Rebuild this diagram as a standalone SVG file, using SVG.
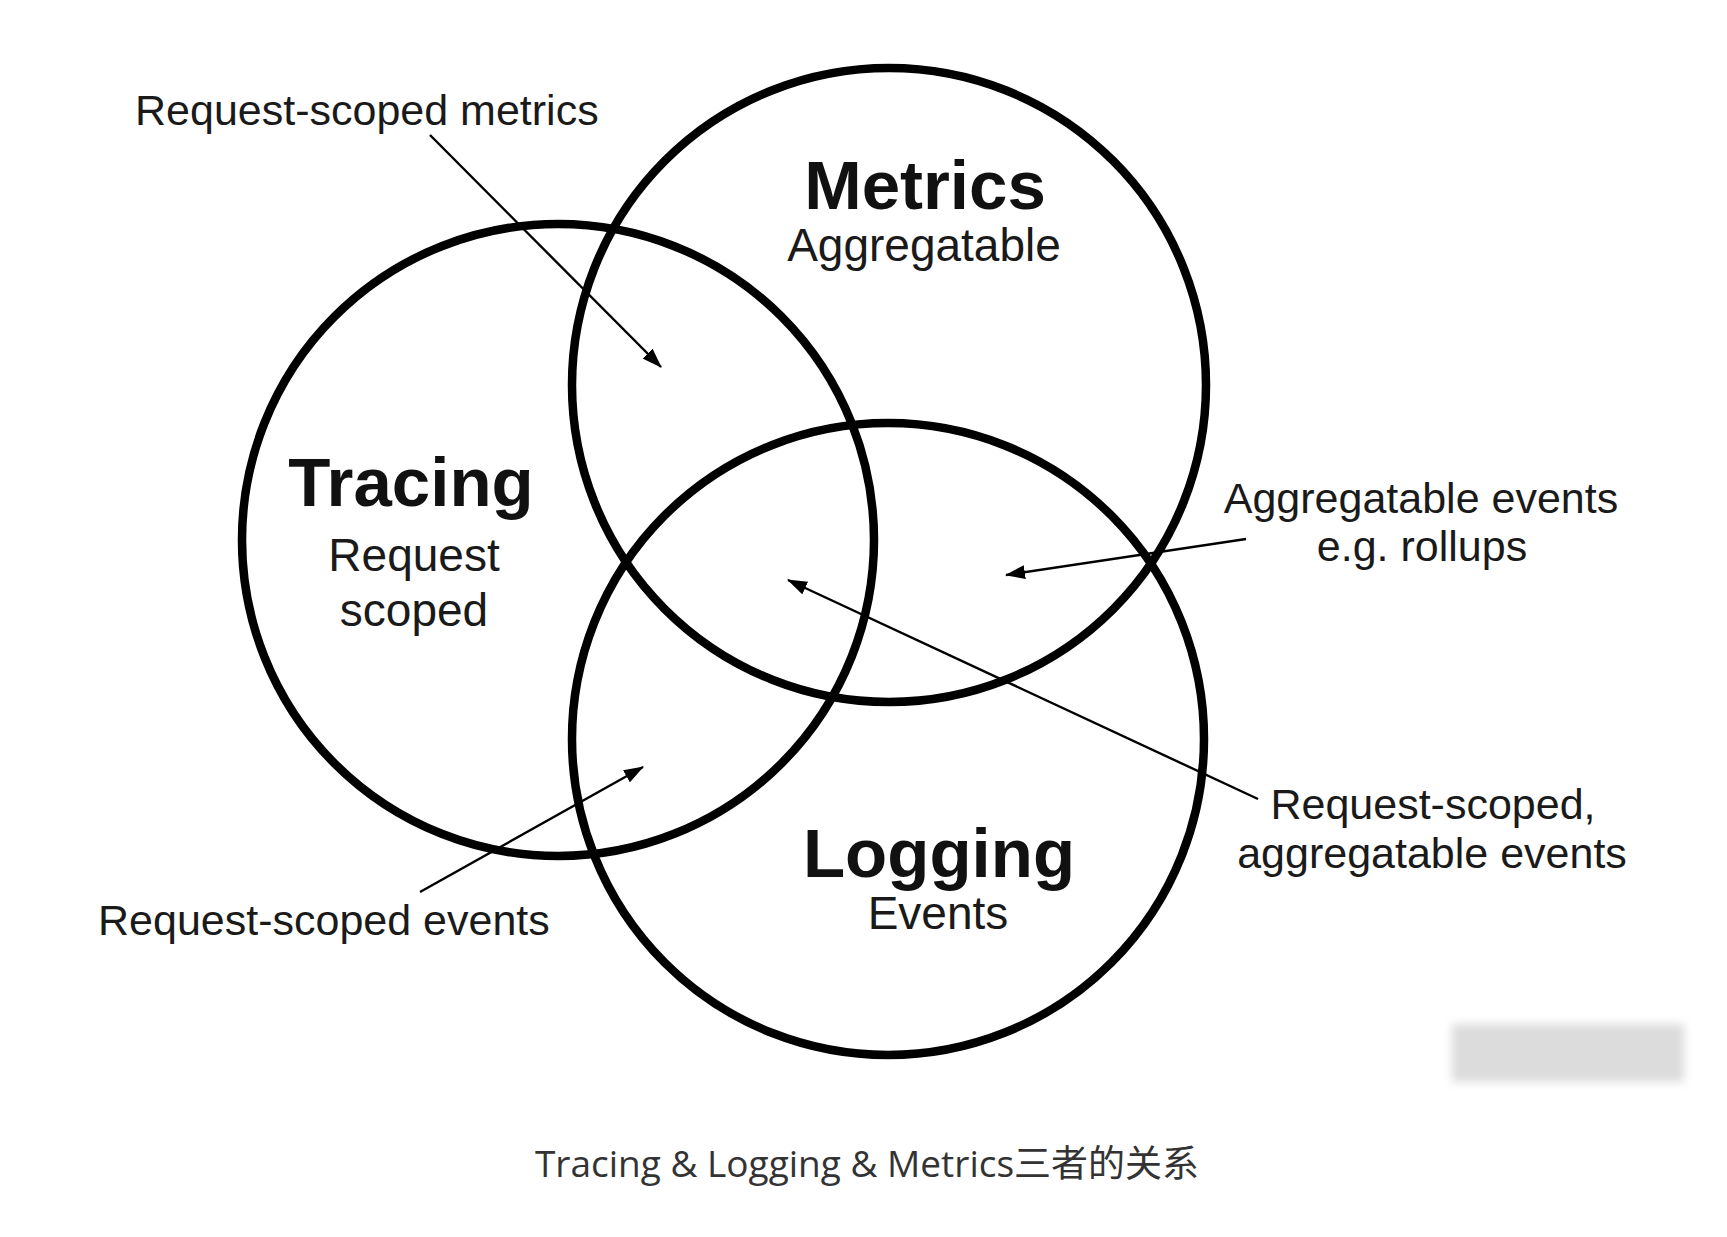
<svg xmlns="http://www.w3.org/2000/svg" width="1727" height="1237" viewBox="0 0 1727 1237">
<style>
  .ring { fill: none; stroke: #000; stroke-width: 8.5; }
  .title { font-family: "Liberation Sans", Arial, sans-serif; font-weight: bold; font-size: 69px; fill: #111; text-anchor: middle; }
  .sub { font-family: "Liberation Sans", Arial, sans-serif; font-size: 46px; fill: #1a1a1a; text-anchor: middle; }
  .lbl { font-family: "Liberation Sans", Arial, sans-serif; font-size: 43px; fill: #1a1a1a; }
  .conn { stroke: #000; stroke-width: 2.4; fill: none; marker-end: url(#arrow); }
  .caption { font-family: "Open Sans", "Noto Sans CJK SC", sans-serif; font-size: 37px; fill: #333; text-anchor: middle; }
</style>
<defs>
  <marker id="arrow" markerUnits="userSpaceOnUse" markerWidth="20" markerHeight="14" refX="19" refY="7" orient="auto">
    <path d="M0,0 L20,7 L0,14 z" fill="#000"/>
  </marker>
  <filter id="blur" x="-20%" y="-40%" width="140%" height="180%">
    <feGaussianBlur stdDeviation="5"/>
  </filter>
</defs>
<rect x="0" y="0" width="1727" height="1237" fill="#fff"/>

<g id="tracing">
  <circle class="ring" cx="558" cy="540" r="316"/>
  <text class="title" x="411" y="506">Tracing</text>
  <text class="sub" x="414" y="571">Request</text>
  <text class="sub" x="414" y="626">scoped</text>
</g>
<g id="metrics">
  <circle class="ring" cx="889" cy="385" r="317"/>
  <text class="title" x="925" y="209">Metrics</text>
  <text class="sub" x="924" y="261">Aggregatable</text>
</g>
<g id="logging">
  <circle class="ring" cx="888" cy="739" r="316"/>
  <text class="title" x="939" y="877">Logging</text>
  <text class="sub" x="938" y="929">Events</text>
</g>

<g id="connectors">
  <line id="c-req-metrics" class="conn" x1="430" y1="135" x2="661" y2="367"/>
  <line id="c-agg-events" class="conn" x1="1246" y1="539" x2="1006" y2="575"/>
  <line id="c-req-agg-events" class="conn" x1="1258" y1="799" x2="788" y2="580"/>
  <line id="c-req-events" class="conn" x1="420" y1="892" x2="643" y2="767"/>
</g>

<g id="label-req-metrics">
  <text class="lbl" x="135" y="125">Request-scoped metrics</text>
</g>
<g id="label-agg-events">
  <text class="lbl" x="1421" y="513" text-anchor="middle">Aggregatable events</text>
  <text class="lbl" x="1422" y="561" text-anchor="middle">e.g. rollups</text>
</g>
<g id="label-req-agg-events">
  <text class="lbl" x="1433" y="819" text-anchor="middle">Request-scoped,</text>
  <text class="lbl" x="1432" y="868" text-anchor="middle">aggregatable events</text>
</g>
<g id="label-req-events">
  <text class="lbl" x="98" y="935">Request-scoped events</text>
</g>

<g id="watermark">
  <rect x="1452" y="1024" width="232" height="58" fill="#dcdcdc" filter="url(#blur)"/>
</g>

<text class="caption" x="867" y="1177">Tracing &amp; Logging &amp; Metrics三者的关系</text>
</svg>
